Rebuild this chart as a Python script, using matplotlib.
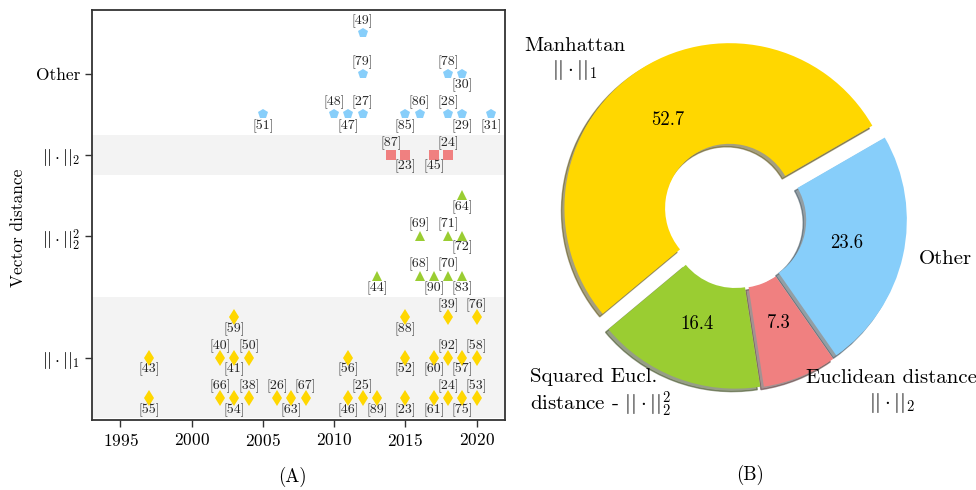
import numpy as np
import matplotlib
matplotlib.use("Agg")
import matplotlib.pyplot as plt

plt.rcParams['font.family'] = 'serif'
plt.rcParams['font.serif'] = ['cmr10']
plt.rcParams['mathtext.fontset'] = 'cm'
plt.rcParams['axes.formatter.use_mathtext'] = True

# --- data: one entry per paper, stacked in listed order inside each year
manhattan_years = [1997, 1997, 2002, 2002, 2003, 2003, 2003, 2004, 2004, 2006, 2007, 2008,
                   2011, 2011, 2012, 2013, 2015, 2015, 2015, 2017, 2017, 2018, 2018, 2018,
                   2019, 2019, 2020, 2020, 2020]
manhattan_refs = [55, 43, 66, 40, 54, 41, 59, 38, 50, 26, 63, 67,
                  46, 56, 25, 89, 23, 52, 88, 61, 60, 24, 92, 39,
                  75, 57, 53, 58, 76]

sq_eucl_years = [2013, 2016, 2016, 2017, 2018, 2018, 2019, 2019, 2019]
sq_eucl_refs = [44, 68, 69, 90, 70, 71, 83, 72, 64]

eucl_years = [2014, 2015, 2017, 2018]
eucl_refs = [87, 23, 45, 24]

other_years = [2005, 2010, 2011, 2012, 2012, 2012, 2015, 2016, 2018, 2018, 2019, 2019, 2021]
other_refs = [51, 48, 47, 27, 79, 49, 85, 86, 28, 78, 29, 30, 31]

CATEGORIES = [r'$||\cdot||_1$', r'$||\cdot||_2^2$', r'$||\cdot||_2$', 'Other']
PIE_LABELS = ['Manhattan\n' + r'$||\cdot||_1$',
              'Squared Eucl.\ndistance - ' + r'$||\cdot||_2^2$',
              'Euclidean distance\n' + r'$||\cdot||_2$',
              'Other']
YEAR_TICKS = [1995, 2000, 2005, 2010, 2015, 2020]

COLORS = ['gold', 'yellowgreen', 'lightcoral', 'lightskyblue']
MARKERS = ['d', '^', 's', 'p']

TICKLBLSIZE = 12.5
AXISLBLSIZE = 12.5
REFSIZE = 10
PIELBLSIZE = 15
PCTSIZE = 13.5

W, H = 976, 490
# pie geometry in pixels
PIE_CX, PIE_CY, PIE_R = 737, 219, 165


def main():
    data = [(manhattan_years, manhattan_refs), (sq_eucl_years, sq_eucl_refs),
            (eucl_years, eucl_refs), (other_years, other_refs)]

    fig = plt.figure(figsize=(W / 100, H / 100), dpi=100)

    # ---------------- (A) timeline
    ax = fig.add_axes([92 / W, 1 - 420 / H, 413 / W, 410 / H])
    base = 0
    ticks = []
    for i, (years, refs) in enumerate(data):
        seen = {}
        rows = []
        for y in years:
            rows.append(seen.get(y, 0))
            seen[y] = seen.get(y, 0) + 1
        nrows = max(rows) + 1
        if i % 2 == 0:
            ax.axhspan(base - 0.5, base + nrows - 0.5, color='#f3f3f3', lw=0, zorder=0)
        ys = [base + r for r in rows]
        ax.plot(years, ys, MARKERS[i], ls='none', ms=7.8, color=COLORS[i], mew=0, zorder=3)
        for x, y, ref in zip(years, ys, refs):
            off = 8.5 if x % 2 == 0 else -8.5
            ax.annotate(f'[{ref}]', (x, y), xytext=(0, off), textcoords='offset points',
                        ha='center', va='center', fontsize=REFSIZE, color='0.15')
        ticks.append(base + (nrows - 1) / 2)
        base += nrows

    ax.set_xlim(1993, 2022)
    ax.set_ylim(-0.54, base - 0.43)
    ax.set_xticks(YEAR_TICKS)
    ax.set_yticks(ticks)
    ax.set_yticklabels(CATEGORIES)
    ax.tick_params(labelsize=TICKLBLSIZE, length=5, width=1, color='0.2')
    for s in ax.spines.values():
        s.set_linewidth(1.3)
        s.set_color('0.2')

    fig.text(18 / W, 1 - 228 / H, 'Vector distance', rotation='vertical',
             ha='center', va='center', size=AXISLBLSIZE)
    fig.text(292 / W, 1 - 477 / H, '(A)', ha='center', va='center', size=13.5)

    # ---------------- (B) donut
    x0, x1, y0, y1 = 510, 976, 0, 460
    pax = fig.add_axes([x0 / W, 1 - y1 / H, (x1 - x0) / W, (y1 - y0) / H])
    counts = [len(r) for _, r in data]
    wedges, texts, autotexts = pax.pie(counts, labels=PIE_LABELS, colors=COLORS,
                                       explode=(0.08, 0.03, 0.03, 0.03), startangle=30,
                                       autopct='%.1f', pctdistance=0.65, labeldistance=1.1,
                                       shadow={'ox': -0.013, 'oy': -0.013},
                                       wedgeprops={'width': 0.61})
    for t in texts:
        t.set_fontsize(PIELBLSIZE)
        t.set_multialignment('center')
    texts[1].set_multialignment('left')
    for t in autotexts:
        t.set_fontsize(PCTSIZE)
    pax.set_aspect('auto')
    pax.set_xlim((x0 - PIE_CX) / PIE_R, (x1 - PIE_CX) / PIE_R)
    pax.set_ylim((PIE_CY - y1) / PIE_R, (PIE_CY - y0) / PIE_R)
    pax.axis('off')

    fig.text(750 / W, 1 - 475 / H, '(B)', ha='center', va='center', size=13.5)

    plt.savefig('out.png', dpi=100)
    plt.close()


if __name__ == "__main__":
    main()
